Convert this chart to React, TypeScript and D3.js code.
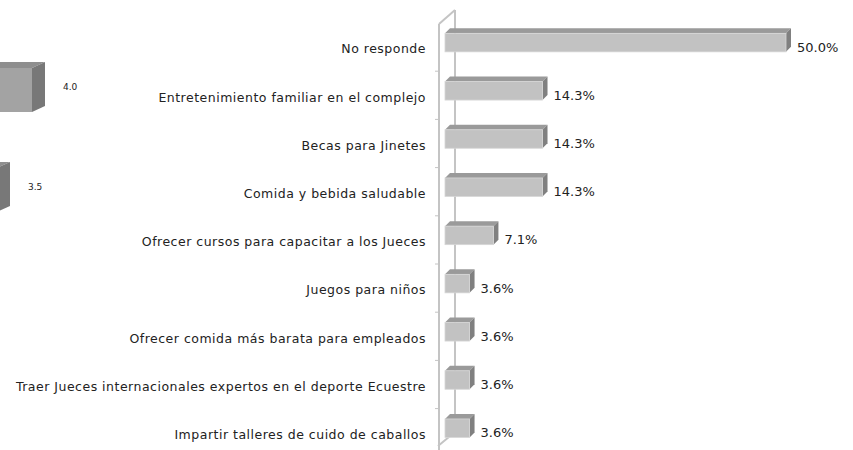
import React from "react";
import * as d3 from "d3";

const categories = [
  "No responde",
  "Entretenimiento familiar en el complejo",
  "Becas para Jinetes",
  "Comida y bebida saludable",
  "Ofrecer cursos para capacitar a los Jueces",
  "Juegos para niños",
  "Ofrecer comida más barata para empleados",
  "Traer Jueces internacionales expertos en el deporte Ecuestre",
  "Impartir talleres de cuido de caballos",
];
const values = [50.0, 14.3, 14.3, 14.3, 7.1, 3.6, 3.6, 3.6, 3.6];

// partial bars of the neighbouring chart, cut at the left edge
const leftLabels = ["4.0", "3.5"];
const leftValues = [4.0, 3.5];

const W = 853;
const H = 450;
const FONT = "'Comic Sans MS', 'DejaVu Sans', sans-serif";

export default function App() {
  const axisX = 439;
  const x = d3.scaleLinear().domain([0, 50]).range([445, 786]);
  const y = d3
    .scaleBand<string>()
    .domain(categories)
    .range([23, 23 + 48.2 * categories.length]);
  const barH = 18.5;
  const dx = 5;
  const dy = 5;

  const xl = d3.scaleLinear().domain([3.5, 4.0]).range([-3, 32]);
  const yl = d3.scaleBand<string>().domain(leftLabels).range([40, 240]);

  return (
    <svg width={W} height={H} style={{ position: "absolute", left: 0, top: 0, background: "#fff" }}>
      {/* left partial chart */}
      {leftValues.map((v, i) => {
        const cy = yl(leftLabels[i])! + yl.bandwidth() / 2;
        const x1 = xl(v);
        const top = cy - 22;
        const bot = cy + 22;
        const ldx = 13;
        const ldy = 6;
        return (
          <g key={i}>
            <rect x={-300} y={top} width={x1 + 300} height={bot - top} fill="#a3a3a3" />
            <polygon
              points={`-300,${top} ${x1},${top} ${x1 + ldx},${top - ldy} ${-300 + ldx},${top - ldy}`}
              fill="#8e8e8e"
            />
            <polygon
              points={`${x1},${top} ${x1 + ldx},${top - ldy} ${x1 + ldx},${bot - ldy} ${x1},${bot}`}
              fill="#787878"
            />
            <text x={x1 + 31} y={cy - 3} dy="0.35em" fontSize={9} fontFamily="'DejaVu Sans', sans-serif" fill="#222">
              {leftLabels[i]}
            </text>
          </g>
        );
      })}

      {/* 3D axis wall */}
      <g stroke="#c4c4c4" strokeWidth={2} fill="none">
        <line x1={axisX} y1={24} x2={axisX} y2={452} />
        <line x1={455} y1={10} x2={455} y2={432} />
        <line x1={axisX} y1={24} x2={455} y2={10} />
        <line x1={455} y1={432} x2={438} y2={446} />
      </g>
      {categories.map((c, i) =>
        i === 0 ? null : (
          <line key={c} x1={435} x2={axisX} y1={y(c)!} y2={y(c)!} stroke="#c4c4c4" strokeWidth={1} />
        )
      )}

      {/* bars */}
      {categories.map((c, i) => {
        const cy = y(c)! + y.bandwidth() / 2;
        const fy = cy - 4.5 - barH / 2;
        const x0 = x(0);
        const x1 = x(values[i]);
        return (
          <g key={c}>
            <polygon
              points={`${x0},${fy} ${x1},${fy} ${x1 + dx},${fy - dy} ${x0 + dx},${fy - dy}`}
              fill="#9a9a9a"
            />
            <polygon
              points={`${x1},${fy} ${x1 + dx},${fy - dy} ${x1 + dx},${fy + barH - dy} ${x1},${fy + barH}`}
              fill="#808080"
            />
            <rect x={x0} y={fy} width={x1 - x0} height={barH} fill="#c2c2c2" stroke="#d6d6d6" strokeWidth={0.8} />
            <text x={x1 + dx + 6} y={cy} dy="0.35em" fontSize={13} fontFamily={FONT} fill="#222">
              {values[i].toFixed(1)}%
            </text>
            <text
              x={426}
              y={cy + 2}
              dy="0.35em"
              textAnchor="end"
              fontSize={12.5}
              letterSpacing={0.5}
              fontFamily={FONT}
              fill="#222"
            >
              {c}
            </text>
          </g>
        );
      })}
    </svg>
  );
}
